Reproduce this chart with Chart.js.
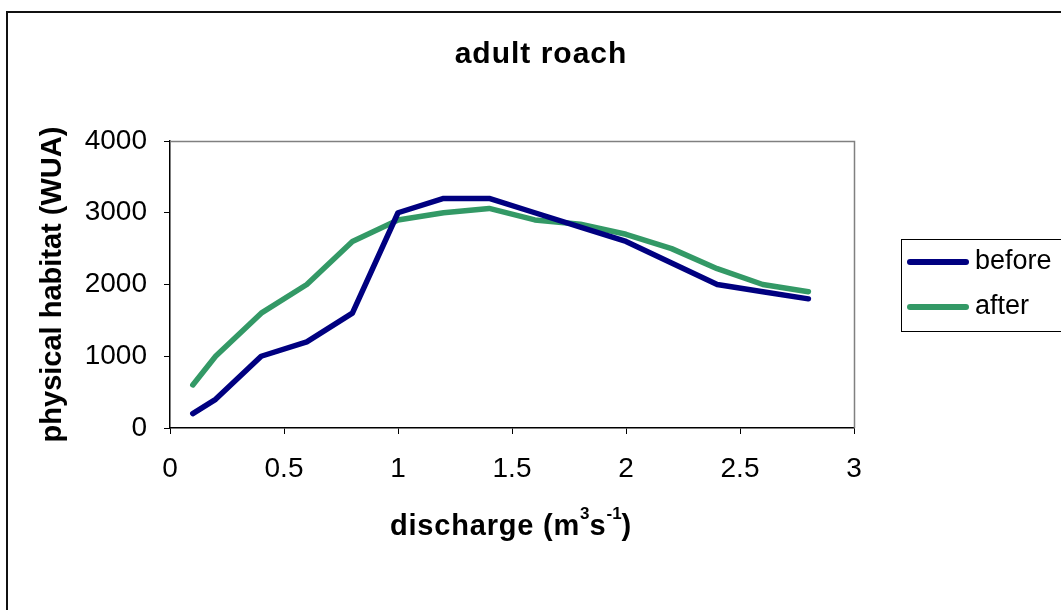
<!DOCTYPE html>
<html>
<head>
<meta charset="utf-8">
<script src="https://cdn.jsdelivr.net/npm/chart.js@4.4.1/dist/chart.umd.min.js"></script>
<style>
html,body{margin:0;padding:0;background:#fff;}
#wrap{width:1061px;height:610px;position:relative;}
</style>
</head>
<body>
<div id="wrap"><canvas id="c" width="1061" height="610"></canvas></div>
<script>
const discharge = [0.1, 0.2, 0.4, 0.6, 0.8, 1.0, 1.2, 1.4, 1.6, 1.8, 2.0, 2.2, 2.4, 2.6, 2.8];
const before = [200, 400, 1000, 1200, 1600, 3000, 3200, 3200, 3000, 2800, 2600, 2300, 2000, 1900, 1800];
const after  = [600, 1000, 1600, 2000, 2600, 2900, 3000, 3060, 2900, 2840, 2700, 2500, 2220, 2000, 1900];
const seriesNames = ['before', 'after'];
const seriesColors = ['#000080', '#339966'];
const xTicks = [0, 0.5, 1, 1.5, 2, 2.5, 3];
const yTicks = [0, 1000, 2000, 3000, 4000];
const chartTitle = 'adult roach';
const xTitleParts = [['discharge (m', false], ['3', true], ['s', false], ['-1', true], [')', false]];
const yTitle = 'physical habitat (WUA)';
const FONT = "'Liberation Sans', Arial, sans-serif";

const decor = {
  id: 'decor',
  beforeDraw(chart) {
    const ctx = chart.ctx;
    ctx.save();
    ctx.fillStyle = '#fff';
    ctx.fillRect(0, 0, chart.width, chart.height);
    ctx.strokeStyle = '#111';
    ctx.lineWidth = 2;
    ctx.strokeRect(7, 12, 1200, 800);
    ctx.restore();
  },
  afterDraw(chart) {
    const ctx = chart.ctx;
    const a = chart.chartArea;
    ctx.save();
    // gray top & right frame of plot area
    ctx.strokeStyle = '#808080';
    ctx.lineWidth = 1.5;
    ctx.beginPath();
    ctx.moveTo(a.left, a.top + 0.5);
    ctx.lineTo(a.right + 0.5, a.top + 0.5);
    ctx.lineTo(a.right + 0.5, a.bottom);
    ctx.stroke();

    // chart title
    ctx.fillStyle = '#000';
    ctx.textBaseline = 'alphabetic';
    ctx.textAlign = 'center';
    ctx.font = "bold 30px " + FONT;
    if ('letterSpacing' in ctx) ctx.letterSpacing = '1px';
    ctx.fillText(chartTitle, 541, 63);

    // x axis title with superscripts
    ctx.textAlign = 'left';
    let x = 390;
    xTitleParts.forEach(([t, sup]) => {
      if (sup) {
        ctx.font = "bold 17px " + FONT;
        if ('letterSpacing' in ctx) ctx.letterSpacing = '0px';
        ctx.fillText(t, x, 519);
      } else {
        ctx.font = "bold 29px " + FONT;
        if ('letterSpacing' in ctx) ctx.letterSpacing = '0.8px';
        ctx.fillText(t, x, 535);
      }
      x += ctx.measureText(t).width;
    });
    if ('letterSpacing' in ctx) ctx.letterSpacing = '0px';

    // legend
    const lx = 901, ly = 239;
    ctx.strokeStyle = '#000';
    ctx.lineWidth = 1;
    ctx.strokeRect(lx + 0.5, ly + 0.5, 200, 92);
    ctx.font = "27px " + FONT;
    ctx.textBaseline = 'alphabetic';
    chart.data.datasets.forEach((ds, i) => {
      const y = 262 + i * 45;
      ctx.strokeStyle = ds.borderColor;
      ctx.lineWidth = 6;
      ctx.lineCap = 'round';
      ctx.beginPath();
      ctx.moveTo(910, y);
      ctx.lineTo(966, y);
      ctx.stroke();
      ctx.fillStyle = '#000';
      ctx.fillText(ds.label, 975, y + 7);
    });
    ctx.restore();
  }
};

new Chart(document.getElementById('c'), {
  type: 'line',
  data: {
    datasets: [
      { label: seriesNames[0], data: discharge.map((x, i) => ({x, y: before[i]})), borderColor: seriesColors[0], borderWidth: 5.5, pointRadius: 0, tension: 0, borderCapStyle: 'round', borderJoinStyle: 'round' },
      { label: seriesNames[1], data: discharge.map((x, i) => ({x, y: after[i]})), borderColor: seriesColors[1], borderWidth: 5.5, pointRadius: 0, tension: 0, borderCapStyle: 'round', borderJoinStyle: 'round' }
    ]
  },
  options: {
    responsive: false,
    animation: false,
    layout: { padding: { left: 0, right: 207, top: 141, bottom: 0 } },
    plugins: {
      legend: { display: false },
      tooltip: { enabled: false },
      title: { display: false }
    },
    scales: {
      x: {
        type: 'linear',
        min: 0, max: 3,
        afterBuildTicks(s) { s.ticks = xTicks.map(v => ({value: v})); },
        afterFit(s) { s.height = 182; },
        ticks: { color: '#000', font: { family: FONT, size: 28 }, padding: 18, maxRotation: 0,
                 autoSkip: false, callback: v => String(v) },
        grid: { display: true, drawOnChartArea: false, drawTicks: true, tickLength: 6, color: '#000' },
        border: { display: true, color: '#000', width: 1.5 },
        title: { display: false }
      },
      y: {
        min: 0, max: 4000,
        afterBuildTicks(s) { s.ticks = yTicks.map(v => ({value: v})); },
        afterFit(s) { s.width = 170; },
        ticks: { color: '#000', font: { family: FONT, size: 28 }, padding: 17, autoSkip: false, callback: v => String(v) },
        grid: { display: true, drawOnChartArea: false, drawTicks: true, tickLength: 6, color: '#000' },
        border: { display: true, color: '#000', width: 1.5 },
        title: { display: true, text: yTitle, color: '#000',
                 font: { family: FONT, size: 29, weight: 'bold' }, padding: { top: 36, bottom: 0 } }
      }
    }
  },
  plugins: [decor]
});
</script>
</body>
</html>
